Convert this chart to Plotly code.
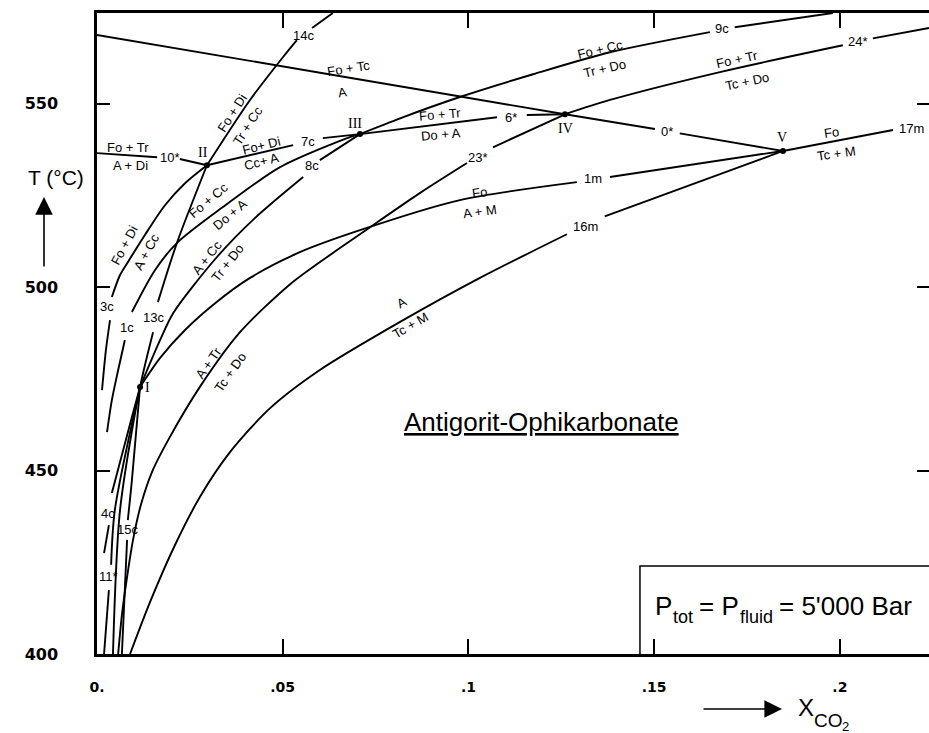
import plotly.graph_objects as go

# ---------------- data (x = mole fraction CO2, T in deg C) ----------------
x_ticks = [0, 0.05, 0.1, 0.15, 0.2]
x_tick_labels = ["0.", ".05", ".1", ".15", ".2"]
T_ticks = [400, 450, 500, 550]
T_tick_labels = ["400", "450", "500", "550"]

pts_name = ["I", "II", "III", "IV", "V"]
pts_x = [0.0116, 0.0296, 0.0708, 0.1260, 0.1847]
pts_T = [472.8, 533.2, 541.7, 547.1, 537.1]

c0_x = [0.0, 0.0660, 0.1260, 0.1502, None, 0.1569, 0.1847]
c0_T = [568.7, 557.4, 547.1, 543.1, None, 541.9, 537.1]

c17m_x = [0.1847, 0.2143]
c17m_T = [537.1, 542.8]

c10_x = [0.0, 0.0162, None, 0.0223, 0.0296]
c10_T = [536.5, 535.4, None, 534.9, 533.2]

c3_x = [0.00135, 0.0024, 0.0035, None, 0.0040, 0.0062, 0.0083, 0.0129, 0.0183, 0.0237, 0.0296]
c3_T = [471.9, 482.8, 491.0, None, 497.3, 503.3, 506.8, 514.2, 522.3, 528.3, 533.2]

c1_x = [0.0027, 0.0040, 0.0057, 0.0075, None, 0.0094, 0.0156, 0.0215, 0.0339, 0.0493, 0.0681, 0.0708]
c1_T = [460.5, 469.2, 477.4, 485.6, None, 493.2, 504.6, 512.0, 521.8, 532.7, 540.9, 541.7]

c13_x = [0.0043, 0.0062, 0.0116, 0.0151, None, 0.0164, 0.0215, 0.0296]
c13_T = [400.0, 439.2, 472.8, 487.7, None, 495.9, 512.0, 533.2]

c14_x = [0.0296, 0.0412, 0.0501, 0.0538, None, 0.0579, 0.0635]
c14_T = [533.2, 551.0, 562.7, 567.3, None, 570.6, 574.7]

c7_x = [0.0296, 0.0528, None, 0.0608, 0.0708]
c7_T = [533.2, 538.7, None, 540.6, 541.7]

c8_x = [0.0116, 0.0170, 0.0205, 0.0323, 0.0425, 0.0555, None, 0.0600, 0.0708]
c8_T = [472.8, 485.6, 492.9, 508.2, 518.8, 530.0, None, 534.6, 541.7]

c6_x = [0.0708, 0.1077, None, 0.1157, 0.1260]
c6_T = [541.7, 546.3, None, 546.9, 547.1]

c9_x = [0.0708, 0.0816, 0.0977, 0.1174, 0.1381, 0.1650, None, 0.1717, 0.1981]
c9_T = [541.7, 546.0, 551.8, 558.0, 564.0, 569.5, None, 570.8, 574.7]

c23_x = [0.0057, 0.0067, 0.0081, 0.0097, 0.0118, 0.0148, 0.0196, 0.0277, 0.0385,
         0.0520, 0.0635, 0.0708, 0.0869, 0.0996, None, 0.1066, 0.1260]
c23_T = [400.0, 410.6, 421.0, 431.1, 440.6, 449.6, 459.1, 472.8, 487.7,
         500.8, 509.3, 514.4, 525.6, 533.8, None, 538.1, 547.1]

c24_x = [0.1260, 0.1381, 0.1677, 0.2008, None, 0.2089, 0.2240]
c24_T = [547.1, 551.0, 558.6, 565.9, None, 567.8, 570.6]

c1m_x = [0.0116, 0.0170, 0.0237, 0.0318, 0.0412, 0.0546, 0.0708, 0.0977, 0.1292, None, 0.1381, 0.1847]
c1m_T = [472.8, 480.7, 488.3, 495.6, 502.5, 509.5, 515.5, 523.7, 528.6, None, 530.0, 537.1]

c16m_x = [0.0089, 0.0143, 0.0210, 0.0277, 0.0358, 0.0466, 0.0600, 0.0816, 0.1031, 0.1265, None, 0.1367, 0.1847]
c16m_T = [400.0, 414.2, 429.7, 442.8, 455.0, 467.0, 477.4, 490.5, 502.5, 514.4, None, 519.3, 537.1]

c4_x = [0.0116, 0.0094, 0.0040, None, 0.0032, 0.0019]
c4_T = [472.8, 464.6, 443.9, None, 435.1, 427.5]

c11_x = [0.0116, 0.0048, 0.0038, None, 0.0032, 0.0019]
c11_T = [472.8, 439.2, 424.3, None, 417.4, 400.0]

c15_x = [0.0116, 0.0094, 0.0083, None, 0.0081, 0.0067]
c15_T = [472.8, 447.4, 436.5, None, 431.1, 400.0]

curve_names = ["14c", "9c", "24*", "17m", "10*", "7c", "8c", "6*",
               "0*", "23*", "1m", "16m", "3c", "1c", "13c", "4c", "15c", "11*"]

assemblages = ["Fo + Tc", "A", "Fo + Tr", "A + Di", "Fo + Di", "A + Cc", "Fo + Cc", "Do + A",
               "Fo + Di", "Tr + Cc", "Fo+ Di", "Cc+ A", "A + Cc", "Tr + Do", "A + Tr", "Tc + Do",
               "Fo + Tr", "Do + A", "Fo + Cc", "Tr + Do", "Fo + Tr", "Tc + Do", "Fo", "A + M",
               "A", "Tc + M", "Fo", "Tc + M"]

# caption pieces (main text / subscripts)
pressure_parts = ["P", "tot", "= P", "fluid", "= 5'000 Bar"]
xtitle_parts = ["X", "CO", "2"]

# ---------------- label placement (kept apart from the data) ----------------
name_pos = [(0.0555, 568.7), (0.1682, 570.6), (0.2048, 567.0), (0.2194, 543.3), (0.0196, 535.4),
            (0.0568, 539.8), (0.0579, 533.2), (0.1114, 546.3), (0.1534, 542.5), (0.1026, 535.4),
            (0.1335, 529.7), (0.1314, 516.6), (0.0027, 494.6), (0.0081, 489.1), (0.0151, 491.8),
            (0.0030, 438.4), (0.0081, 433.8), (0.0030, 421.0)]

assem_pos = [(0.0676, 559.7, -9), (0.0660, 553.1, -9), (0.0083, 538.1, 0), (0.0089, 533.2, 0),
             (0.0073, 511.4, -62), (0.0132, 509.5, -62), (0.0299, 523.7, -40), (0.0358, 519.9, -40),
             (0.0363, 547.4, -57), (0.0406, 544.1, -57), (0.0444, 538.7, -14), (0.0444, 534.1, -14),
             (0.0296, 508.2, -52), (0.0350, 506.5, -52), (0.0299, 479.3, -55), (0.0358, 476.8, -55),
             (0.0923, 547.1, -5), (0.0926, 541.7, -5), (0.1354, 564.8, -13), (0.1367, 559.7, -13),
             (0.1723, 561.9, -12), (0.1750, 556.1, -12), (0.1031, 525.9, -8), (0.1031, 520.7, -8),
             (0.0821, 495.9, -30), (0.0843, 489.6, -30), (0.1978, 542.2, -8), (0.1992, 536.5, -8)]

pt_label_pos = [(0.0137, 472.5), (0.0285, 536.8), (0.0694, 544.7), (0.1260, 543.3), (0.1844, 540.9)]

# (paper x of left edge, paper y of centre, font size)
pressure_layout = [(0.6707, 0.0749, 26), (0.6923, 0.0577, 18), (0.7236, 0.0749, 26),
                   (0.7728, 0.0577, 18), (0.8197, 0.0749, 26)]
xtitle_layout = [(0.8425, -0.0842, 24), (0.8618, -0.1030, 19), (0.8954, -0.1130, 13)]

curves = [(c0_x, c0_T), (c17m_x, c17m_T), (c10_x, c10_T), (c3_x, c3_T), (c1_x, c1_T),
          (c13_x, c13_T), (c14_x, c14_T), (c7_x, c7_T), (c8_x, c8_T), (c6_x, c6_T),
          (c9_x, c9_T), (c23_x, c23_T), (c24_x, c24_T), (c1m_x, c1m_T), (c16m_x, c16m_T),
          (c4_x, c4_T), (c11_x, c11_T), (c15_x, c15_T)]

# all univariant curves drawn as one trace, separated by gaps
all_x, all_T = [], []
for cx, cT in curves:
    all_x += list(cx) + [None]
    all_T += list(cT) + [None]

LAB = "Liberation Sans"
NARROW = "Liberation Sans Narrow, Liberation Sans"

fig = go.Figure()
fig.add_trace(go.Scatter(x=all_x, y=all_T, mode="lines", connectgaps=False, hoverinfo="skip",
                         showlegend=False,
                         line=dict(color="black", width=1.9, shape="spline", smoothing=0.8)))
fig.add_trace(go.Scatter(x=pts_x, y=pts_T, mode="markers", hoverinfo="skip", showlegend=False,
                         marker=dict(color="black", size=6)))
fig.add_trace(go.Scatter(x=[None], y=[None], xaxis="x2", yaxis="y2", mode="lines",
                         showlegend=False, hoverinfo="skip"))

ann = []
for txt, (ax_, ay_) in zip(curve_names, name_pos):
    ann.append(dict(x=ax_, y=ay_, xref="x", yref="y", text=txt, showarrow=False,
                    xanchor="center", yanchor="middle",
                    font=dict(family=LAB, size=13, color="black")))
for txt, (ax_, ay_, ang) in zip(assemblages, assem_pos):
    ann.append(dict(x=ax_, y=ay_, xref="x", yref="y", text=txt, showarrow=False, textangle=ang,
                    xanchor="center", yanchor="middle",
                    font=dict(family=LAB, size=13, color="black")))
for txt, (ax_, ay_) in zip(pts_name, pt_label_pos):
    ann.append(dict(x=ax_, y=ay_, xref="x", yref="y", text=txt, showarrow=False,
                    xanchor="center", yanchor="middle",
                    font=dict(family="Liberation Serif", size=14, color="black")))
for txt, (px_, py_, fs) in zip(pressure_parts, pressure_layout):
    ann.append(dict(x=px_, y=py_, xref="paper", yref="paper", text=txt, showarrow=False,
                    xanchor="left", yanchor="middle", borderpad=0, borderwidth=0,
                    font=dict(family=NARROW, size=fs, color="black")))
for txt, (px_, py_, fs) in zip(xtitle_parts, xtitle_layout):
    ann.append(dict(x=px_, y=py_, xref="paper", yref="paper", text=txt, showarrow=False,
                    xanchor="left", yanchor="middle", borderpad=0, borderwidth=0,
                    font=dict(family=NARROW, size=fs, color="black")))

# titles, arrows, captions
ann += [
    dict(x=-0.0493, y=0.7441, xref="paper", yref="paper", text="T (°C)", showarrow=False,
         xanchor="center", yanchor="middle", font=dict(family=NARROW, size=21, color="black")),
    dict(x=-0.0637, y=0.7129, xref="paper", yref="paper", text="", showarrow=True,
         ax=0, ay=71, arrowhead=2, arrowsize=2.2, arrowwidth=1.6, arrowcolor="black"),
    dict(x=0.8233, y=-0.0858, xref="paper", yref="paper", text="", showarrow=True,
         ax=-80, ay=0, arrowhead=2, arrowsize=2.2, arrowwidth=1.6, arrowcolor="black"),
    dict(x=0.5337, y=0.362, xref="paper", yref="paper", text="<u>Antigorit-Ophikarbonate</u>",
         xanchor="center", yanchor="middle", showarrow=False,
         font=dict(family=LAB, size=26, color="black")),
]

shapes = [dict(type="path", xref="paper", yref="paper",
               path="M 0.6526,0 L 0.6526,0.1373 L 1.0,0.1373",
               line=dict(color="black", width=1.5))]

XR = [0, 0.224]
YR = [400, 574.7]
tickfont = dict(family="DejaVu Sans", size=16, color="black", weight="bold")

fig.update_layout(
    width=929, height=733, margin=dict(l=97, r=0, t=13, b=79, autoexpand=False),
    paper_bgcolor="white", plot_bgcolor="white", showlegend=False,
    annotations=ann, shapes=shapes,
    xaxis=dict(range=XR, showline=True, linecolor="black", linewidth=2.5, ticks="inside",
               ticklen=15, tickwidth=2, tickcolor="black", tickvals=x_ticks, ticktext=x_tick_labels,
               showgrid=False, zeroline=False, ticklabelstandoff=18,
               tickfont=dict(family="DejaVu Sans", size=14, color="black", weight="bold")),
    xaxis2=dict(range=XR, overlaying="x", side="top", showline=True, linecolor="black",
                linewidth=2.5, ticks="inside", ticklen=15, tickwidth=2, tickcolor="black",
                tickvals=x_ticks[1:], showticklabels=False, showgrid=False, zeroline=False),
    yaxis=dict(range=YR, showline=True, linecolor="black", linewidth=2.5, ticks="inside",
               ticklen=13, tickwidth=2, tickcolor="black", tickvals=T_ticks, ticktext=T_tick_labels,
               showgrid=False, zeroline=False, ticklabelstandoff=33, tickfont=tickfont),
    yaxis2=dict(range=YR, overlaying="y", side="right", showline=False, ticks="inside",
                ticklen=12, tickwidth=2, tickcolor="black", tickvals=T_ticks[1:],
                showticklabels=False, showgrid=False, zeroline=False),
)

fig.write_html("out.html", config={"displayModeBar": False},
               post_script="document.body.style.margin='0px';document.body.style.overflow='hidden';")
